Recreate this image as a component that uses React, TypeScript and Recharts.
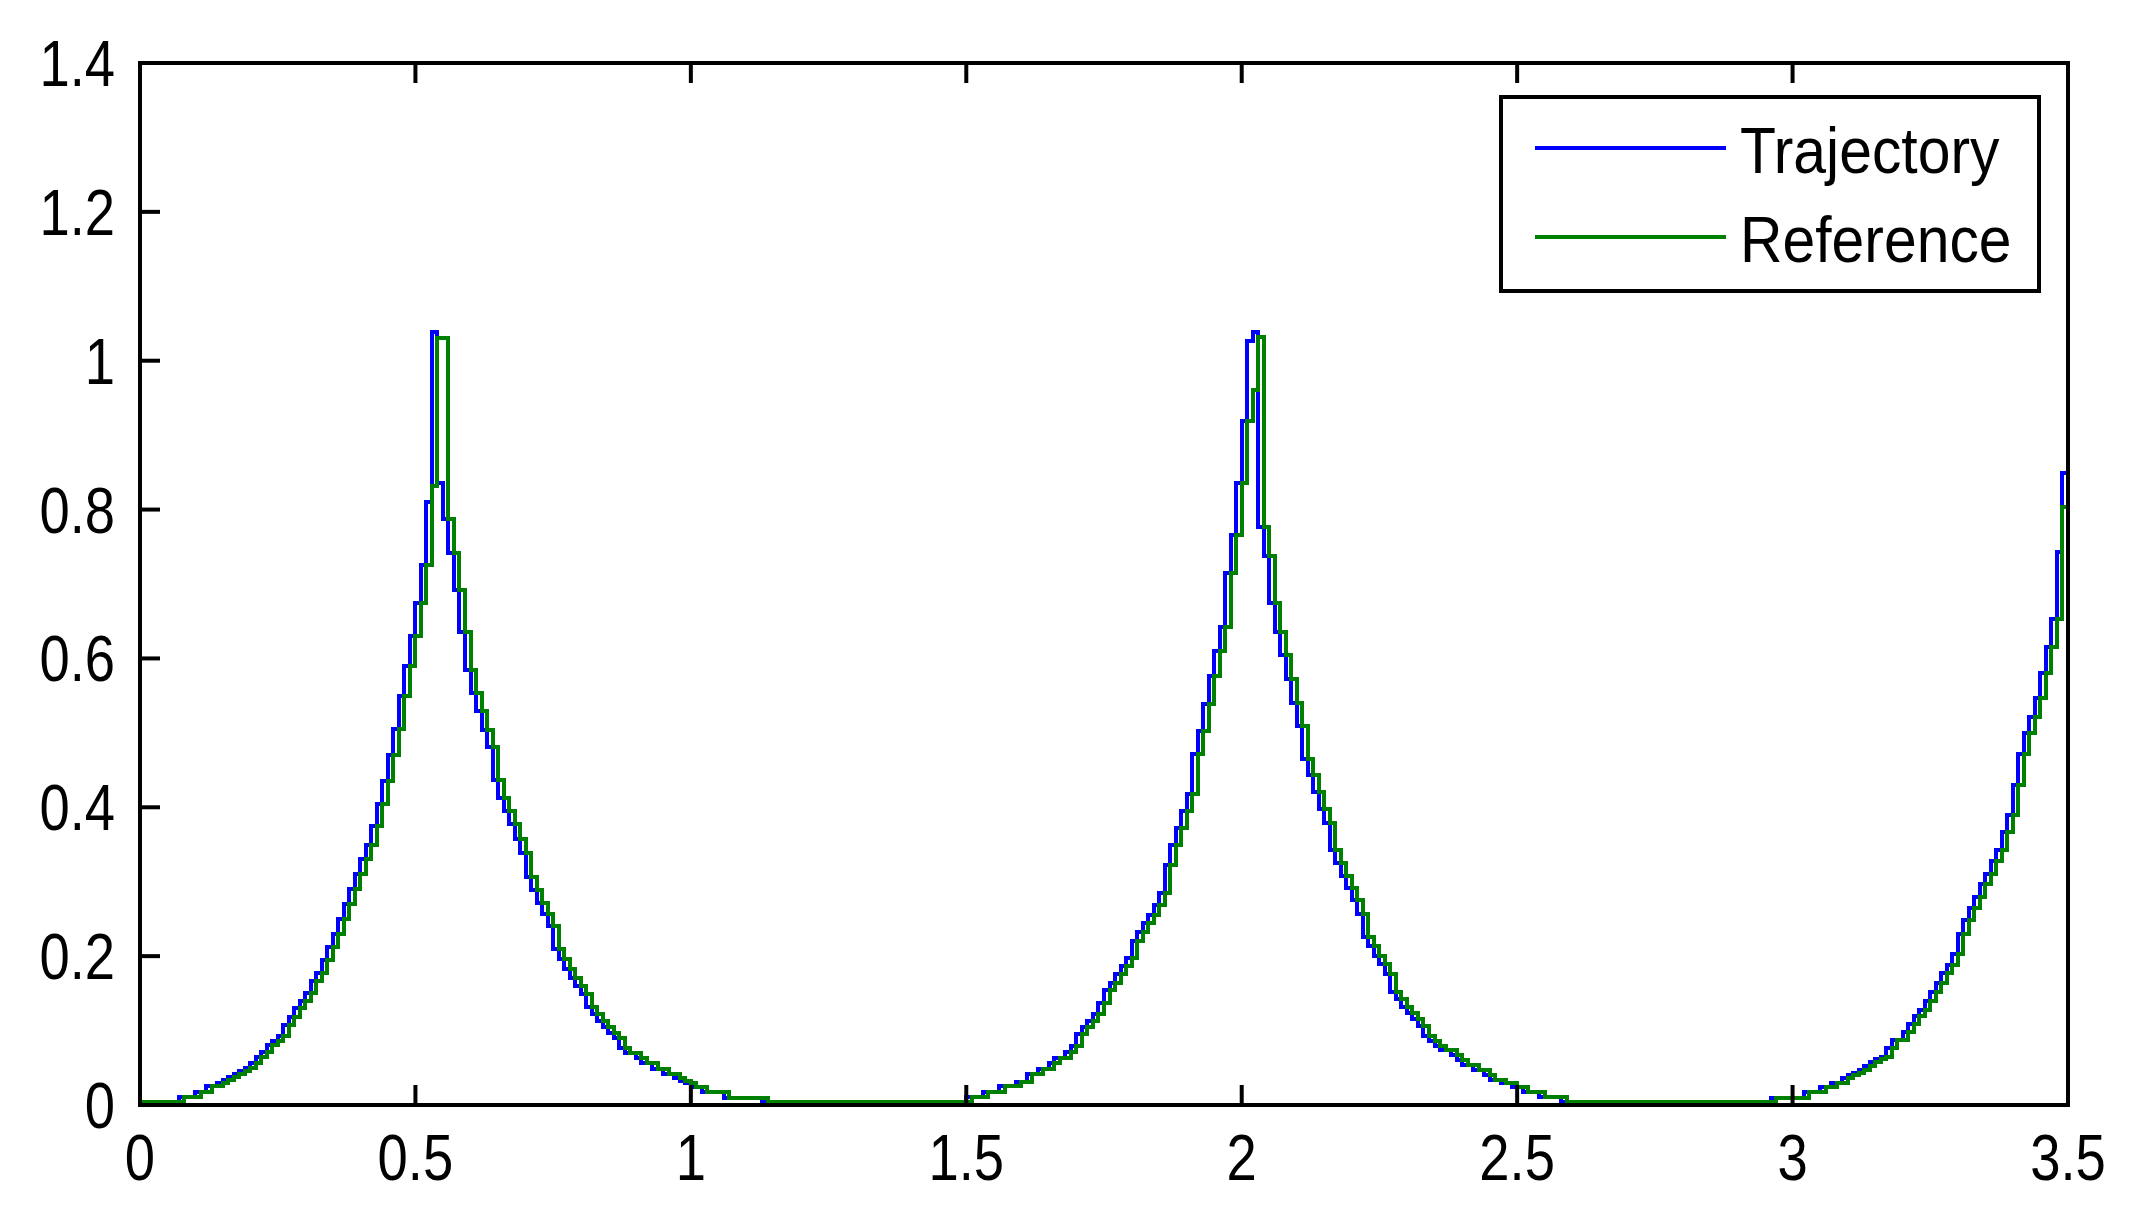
import React from 'react'
import { LineChart, Line, XAxis, YAxis, Legend } from 'recharts'

const SAMPLE_STEP = 0.01

const trajectory = [
  4, 4, 4, 4, 4, 4, 4, 11, 11, 11,
  18, 18, 25, 25, 30, 34, 37, 42, 46, 50,
  57, 64, 71, 80, 86, 93, 108, 118, 130, 140,
  150, 166, 178, 195, 212, 230, 250, 270, 290, 310,
  330, 350, 375, 405, 435, 470, 505, 550, 590, 630,
  675, 725, 810, 1038, 836, 787, 742, 692, 635, 585,
  554, 529, 504, 481, 437, 413, 395, 377, 358, 339,
  307, 289, 271, 257, 240, 210, 196, 183, 171, 160,
  149, 131, 122, 113, 105, 97, 90, 77, 70, 70,
  63, 56, 56, 48, 48, 41, 41, 36, 32, 29,
  24, 24, 17, 17, 17, 17, 10, 10, 10, 10,
  10, 10, 10, 4, 4, 4, 4, 4, 4, 4,
  4, 4, 4, 4, 4, 4, 4, 4, 4, 4,
  4, 4, 4, 4, 4, 4, 4, 4, 4, 4,
  4, 4, 4, 4, 4, 4, 4, 4, 4, 4,
  11, 11, 11, 18, 18, 18, 25, 25, 25, 31,
  31, 42, 42, 49, 49, 56, 63, 63, 71, 79,
  95, 105, 113, 122, 137, 154, 164, 176, 187, 198,
  220, 232, 244, 255, 269, 285, 322, 349, 372, 395,
  418, 471, 502, 539, 576, 610, 642, 715, 766, 836,
  919, 1026, 1039, 776, 737, 674, 636, 605, 572, 540,
  509, 465, 444, 420, 398, 379, 343, 325, 308, 291,
  275, 257, 226, 213, 200, 189, 176, 152, 142, 132,
  124, 115, 106, 93, 86, 79, 74, 74, 67, 60,
  54, 54, 47, 47, 40, 34, 34, 29, 29, 24,
  24, 17, 17, 17, 11, 11, 11, 11, 4, 4,
  4, 4, 4, 4, 4, 4, 4, 4, 4, 4,
  4, 4, 4, 4, 4, 4, 4, 4, 4, 4,
  4, 4, 4, 4, 4, 4, 4, 4, 4, 4,
  4, 4, 4, 4, 4, 4, 10, 10, 10, 10,
  10, 10, 17, 17, 17, 24, 24, 29, 29, 36,
  40, 43, 47, 52, 58, 62, 65, 76, 88, 88,
  98, 109, 120, 128, 140, 152, 164, 177, 188, 203,
  230, 248, 265, 280, 297, 310, 328, 343, 367, 390,
  430, 472, 500, 521, 547, 581, 616, 653, 743, 849,
  849,
]

const reference = [
  4, 4, 4, 4, 4, 4, 4, 4, 11, 11,
  11, 18, 18, 25, 25, 30, 34, 37, 42, 46,
  50, 57, 64, 71, 80, 86, 93, 108, 118, 130,
  140, 150, 166, 178, 195, 212, 230, 250, 270, 290,
  310, 330, 350, 375, 405, 435, 470, 505, 550, 590,
  630, 675, 725, 831, 1031, 1031, 787, 742, 692, 635,
  585, 554, 529, 504, 481, 437, 413, 395, 377, 358,
  339, 307, 289, 271, 257, 240, 210, 196, 183, 171,
  160, 149, 131, 122, 113, 105, 97, 90, 77, 70,
  70, 63, 56, 56, 48, 48, 41, 41, 36, 32,
  29, 24, 24, 17, 17, 17, 17, 10, 10, 10,
  10, 10, 10, 10, 4, 4, 4, 4, 4, 4,
  4, 4, 4, 4, 4, 4, 4, 4, 4, 4,
  4, 4, 4, 4, 4, 4, 4, 4, 4, 4,
  4, 4, 4, 4, 4, 4, 4, 4, 4, 4,
  4, 11, 11, 11, 18, 18, 18, 25, 25, 25,
  31, 31, 42, 42, 49, 49, 56, 63, 63, 71,
  79, 95, 105, 113, 122, 137, 154, 164, 176, 187,
  198, 220, 232, 244, 255, 269, 285, 322, 349, 372,
  395, 418, 471, 502, 539, 576, 610, 642, 715, 766,
  836, 919, 960, 1032, 776, 737, 674, 636, 605, 572,
  540, 509, 465, 444, 420, 398, 379, 343, 325, 308,
  291, 275, 257, 226, 213, 200, 189, 176, 152, 142,
  132, 124, 115, 106, 93, 86, 79, 74, 74, 67,
  60, 54, 54, 47, 47, 40, 34, 34, 29, 29,
  24, 24, 17, 17, 17, 11, 11, 11, 11, 4,
  4, 4, 4, 4, 4, 4, 4, 4, 4, 4,
  4, 4, 4, 4, 4, 4, 4, 4, 4, 4,
  4, 4, 4, 4, 4, 4, 4, 4, 4, 4,
  4, 4, 4, 4, 4, 4, 4, 10, 10, 10,
  10, 10, 10, 17, 17, 17, 24, 24, 29, 29,
  36, 40, 43, 47, 52, 58, 62, 65, 76, 88,
  88, 98, 109, 120, 128, 140, 152, 164, 177, 188,
  203, 230, 248, 265, 280, 297, 310, 328, 343, 367,
  390, 430, 472, 500, 521, 547, 581, 616, 653, 803,
  803,
]

const seriesNames = ['Trajectory', 'Reference']
const xTicks = [0, 0.5, 1, 1.5, 2, 2.5, 3, 3.5]
const yTicks = [0, 0.2, 0.4, 0.6, 0.8, 1, 1.2, 1.4]

const data = trajectory.map((v, i) => ({
  t: i * SAMPLE_STEP,
  traj: v / 1000,
  ref: reference[i] / 1000,
}))

const FONT = '"Liberation Sans", Arial, sans-serif'
const TICK = 20
const SQUEEZE = 0.85

// matlab style: ticks point inward on all four sides
const BottomTick = ({ x, y, payload }: any) => (
  <g>
    <line x1={x} y1={y} x2={x} y2={y - TICK} stroke="#000" strokeWidth={4} />
    <text
      x={x}
      y={y + 75}
      textAnchor="middle"
      fontFamily={FONT}
      fontSize={64}
      fill="#000"
      transform={`matrix(${SQUEEZE} 0 0 1 ${x * (1 - SQUEEZE)} 0)`}
    >
      {String(payload.value)}
    </text>
  </g>
)

const LeftTick = ({ x, y, payload }: any) => (
  <g>
    <line x1={x} y1={y} x2={x + TICK} y2={y} stroke="#000" strokeWidth={4} />
    <text
      x={x - 25}
      y={y + 23}
      textAnchor="end"
      fontFamily={FONT}
      fontSize={64}
      fill="#000"
      transform={`matrix(${SQUEEZE} 0 0 1 ${(x - 25) * (1 - SQUEEZE)} 0)`}
    >
      {String(payload.value)}
    </text>
  </g>
)

const TopTick = ({ x, y }: any) => (
  <line x1={x} y1={y} x2={x} y2={y + TICK} stroke="#000" strokeWidth={4} />
)

const RightTick = ({ x, y }: any) => (
  <line x1={x} y1={y} x2={x - TICK} y2={y} stroke="#000" strokeWidth={4} />
)

const LegendBox = ({ payload }: any) => {
  const items = [...(payload || [])].sort(
    (a: any, b: any) => seriesNames.indexOf(a.value) - seriesNames.indexOf(b.value)
  )
  return (
    <svg width={542} height={198} style={{ display: 'block' }}>
      <rect x={2} y={2} width={538} height={194} fill="#fff" stroke="#000" strokeWidth={4} />
      {items.map((entry: any, i: number) => (
        <g key={entry.value}>
          <line x1={36} x2={227} y1={53 + i * 89} y2={53 + i * 89} stroke={entry.color} strokeWidth={4} />
          <text
            x={241}
            y={78 + i * 89}
            fontFamily={FONT}
            fontSize={64}
            fill="#000"
            transform={`matrix(0.92 0 0 1 ${241 * 0.08} 0)`}
          >
            {entry.value}
          </text>
        </g>
      ))}
    </svg>
  )
}

const axisStyle = { stroke: '#000', strokeWidth: 4, strokeLinecap: 'square' as const }

export default function App() {
  return (
    <div style={{ position: 'absolute', left: 0, top: 0, width: 2134, height: 1222, background: '#fff' }}>
      <LineChart
        width={2134}
        height={1222}
        data={data}
        margin={{ top: 53, right: 56, bottom: 57, left: 40 }}
      >
        <XAxis
          xAxisId="b"
          dataKey="t"
          type="number"
          domain={[0, 3.5]}
          ticks={xTicks}
          interval={0}
          height={60}
          tickSize={0}
          tickMargin={0}
          axisLine={axisStyle}
          tickLine={false}
          tick={<BottomTick />}
        />
        <XAxis
          xAxisId="t"
          orientation="top"
          dataKey="t"
          type="number"
          domain={[0, 3.5]}
          ticks={xTicks}
          interval={0}
          height={10}
          tickSize={0}
          tickMargin={0}
          axisLine={axisStyle}
          tickLine={false}
          tick={<TopTick />}
        />
        <YAxis
          yAxisId="l"
          type="number"
          domain={[0, 1.4]}
          ticks={yTicks}
          interval={0}
          width={100}
          tickSize={0}
          tickMargin={0}
          axisLine={axisStyle}
          tickLine={false}
          tick={<LeftTick />}
        />
        <YAxis
          yAxisId="r"
          orientation="right"
          type="number"
          domain={[0, 1.4]}
          ticks={yTicks}
          interval={0}
          width={10}
          tickSize={0}
          tickMargin={0}
          axisLine={axisStyle}
          tickLine={false}
          tick={<RightTick />}
        />
        <Legend
          layout="vertical"
          align="center"
          verticalAlign="middle"
          wrapperStyle={{ position: 'absolute', left: 1499, top: 95, width: 542, height: 198 }}
          content={<LegendBox />}
        />
        <Line
          xAxisId="b"
          yAxisId="l"
          type="stepAfter"
          dataKey="traj"
          name="Trajectory"
          stroke="#0000ff"
          strokeWidth={4}
          shapeRendering="crispEdges"
          dot={false}
          activeDot={false}
          isAnimationActive={false}
        />
        <Line
          xAxisId="b"
          yAxisId="l"
          type="stepAfter"
          dataKey="ref"
          name="Reference"
          stroke="#008000"
          strokeWidth={4}
          shapeRendering="crispEdges"
          dot={false}
          activeDot={false}
          isAnimationActive={false}
        />
      </LineChart>
    </div>
  )
}
